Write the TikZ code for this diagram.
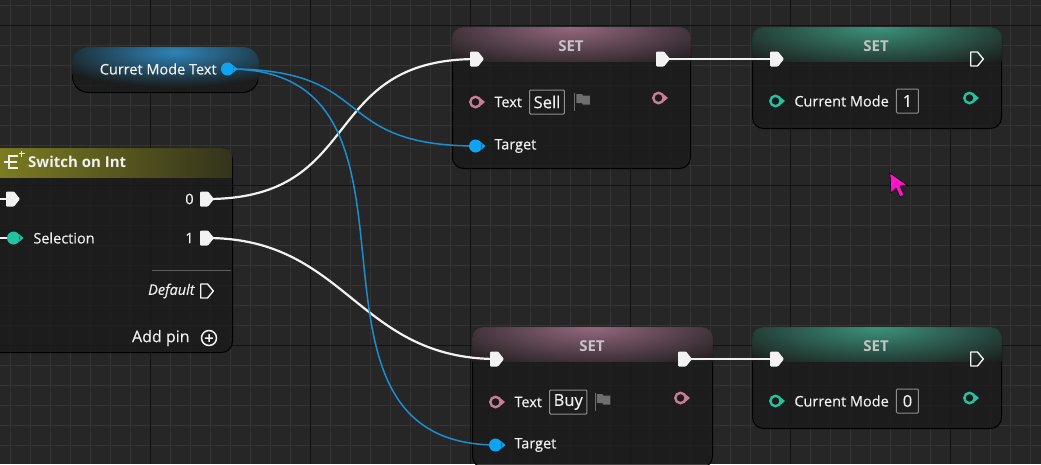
\documentclass[tikz,border=0pt]{standalone}
\usepackage{fontspec}
\setmainfont{Open Sans}
\newfontfamily\uefont{Open Sans}[FakeBold=0.35]
\usetikzlibrary{positioning}

\definecolor{canvas}{HTML}{262626}
\definecolor{gridfine}{HTML}{343434}
\definecolor{gridmajor}{HTML}{121212}
\definecolor{nodebg}{HTML}{1A1B1A}
\definecolor{execwhite}{HTML}{F2F2F2}
\definecolor{objblue}{HTML}{0FA3F2}
\definecolor{wireblue}{HTML}{1C8ED0}
\definecolor{textpink}{HTML}{C97D98}
\definecolor{intgreen}{HTML}{22C4A0}
\definecolor{labelgrey}{HTML}{F0F0F0}
\definecolor{titlegrey}{HTML}{C4C4C4}
\definecolor{boxgrey}{HTML}{8E8E8E}
\definecolor{flaggrey}{HTML}{6E6E6E}
\definecolor{pinkhdr}{HTML}{A2708A}
\definecolor{greenhdr}{HTML}{40A084}
\definecolor{olivehdr}{HTML}{8A8A22}
\definecolor{getblue}{HTML}{2F8AC0}
\definecolor{cursorpink}{HTML}{FF14C8}

\pgfdeclarelayer{grid}
\pgfdeclarelayer{bodies}
\pgfdeclarelayer{wires}
\pgfsetlayers{grid,bodies,wires,main}

\tikzset{
	body/.style={draw=black, line width=1pt, fill=nodebg, fill opacity=0.82, rounded corners=11pt, inner sep=0, anchor=north west},
	pin/.style={inner sep=0, minimum width=16pt, minimum height=16pt},
	execpin/.pic={\fill[execwhite, rounded corners=1pt] (-7,-7.5) -- (1,-7.5) -- (7,0) -- (1,7.5) -- (-7,7.5) -- cycle;},
	execopen/.pic={\draw[execwhite, line width=1.4pt, line join=round] (-6.3,-7) -- (0.5,-7) -- (6.3,0) -- (0.5,7) -- (-6.3,7) -- cycle;},
	dotpin/.pic={\fill[#1] (-1.5,0) circle (6.5pt) (4,-3.8) -- (8.5,0) -- (4,3.8) -- cycle;},
	ringpin/.pic={
		\fill[#1] (3.5,-3.8) -- (8,0) -- (3.5,3.8) -- cycle;
		\draw[#1, line width=2.4pt, fill=nodebg] (-1.5,0) circle (5.2pt);
	},
	addpin/.pic={\draw[execwhite, line width=1.5pt] (0,0) circle (7.5pt) (-3.8,0) -- (3.8,0) (0,-3.8) -- (0,3.8);},
	lbl/.style={text=labelgrey, font=\uefont\fontsize{14.5}{17}\selectfont, inner sep=0},
	settitle/.style={text=titlegrey, font=\bfseries\fontsize{15}{17}\selectfont, inner sep=0},
	valbox/.style={draw=boxgrey, line width=1pt, rounded corners=1pt, text=labelgrey, font=\uefont\fontsize{16.5}{18}\selectfont, inner xsep=4pt, inner ysep=0, minimum height=24pt},
	execwire/.style={execwhite, line width=2.2pt},
	objwire/.style={wireblue, line width=1.5pt},
	flag/.pic={
		\draw[flaggrey, line width=1.3pt] (0,-9) -- (0,9);
		\fill[flaggrey] (1.5,-8) -- (7,-8) -- (8,-6.5) -- (15,-6.5) -- (15,2.5) -- (8,2.5) -- (7,1) -- (1.5,1) -- cycle;
	},
	swicon/.pic={
		\draw[labelgrey, line width=1.7pt] (5,-6) -- (-4,-6) -- (-4,6) -- (5,6) (-9,0) -- (4,0);
		\draw[labelgrey, line width=1.1pt] (8.5,-11.5) -- (8.5,-5.5) (5.5,-8.5) -- (11.5,-8.5);
	}
}

\begin{document}
\begin{tikzpicture}[x=1pt, y=-1pt]
	\useasboundingbox (0,0) rectangle (1041,464);

	% canvas and grid
	\begin{pgfonlayer}{grid}
	\fill[canvas] (0,0) rectangle (1041,464);
	\foreach \gx in {10,30,...,1030} \draw[gridfine, line width=0.8pt] (\gx,0) -- (\gx,464);
	\foreach \gy in {5,25,...,465} \draw[gridfine, line width=0.8pt] (0,\gy) -- (1041,\gy);
	\foreach \gx in {150,310,...,950} \draw[gridmajor, line width=1pt] (\gx,0) -- (\gx,464);
	\foreach \gy in {25,185,345} \draw[gridmajor, line width=1pt] (0,\gy) -- (1041,\gy);
	\end{pgfonlayer}

	% node bodies
	\begin{pgfonlayer}{bodies}
	\node[body, rounded corners=16pt, minimum width=186pt, minimum height=45pt] (getter) at (72,47) {};
	\node[body, minimum width=244pt, minimum height=204pt] (switch) at (-12,148) {};
	\node[body, minimum width=238pt, minimum height=141pt] (sell) at (452,27) {};
	\node[body, minimum width=249pt, minimum height=101pt] (mode1) at (752,27) {};
	\node[body, minimum width=240pt, minimum height=140pt] (buy) at (472,327) {};
	\node[body, minimum width=249pt, minimum height=101pt] (mode0) at (752,327) {};

	\begin{scope}
		\clip[rounded corners=16pt] (getter.north west) rectangle (getter.south east);
		\shade[inner color=getblue, outer color=nodebg, opacity=0.95] (175,52) ellipse [x radius=130pt, y radius=36pt];
	\end{scope}
	\begin{scope}
		\clip[rounded corners=11pt] (switch.north west) rectangle (switch.south east);
		\shade[left color=olivehdr, right color=nodebg!75!olivehdr, opacity=0.9] (switch.north west) rectangle (232,177);
	\end{scope}
	\foreach \b/\hc in {sell/pinkhdr, buy/pinkhdr, mode1/greenhdr, mode0/greenhdr} {
		\begin{scope}
			\clip[rounded corners=11pt] (\b.north west) rectangle (\b.south east);
			\clip (\b.north west) rectangle ([yshift=-34pt]\b.north east);
			\shade[inner color=\hc, outer color=nodebg, opacity=0.9] (\b.north) ellipse [x radius=180pt, y radius=48pt];
		\end{scope}
	}
	\end{pgfonlayer}

	% getter
	\node[pin] (getpin) at (229,69) {};
	\node[lbl, left=4pt of getpin] (getlbl) {Curret Mode Text};

	% switch on int
	\pic at (13,162) {swicon};
	\node[lbl, font=\bfseries\fontsize{15}{17}\selectfont, anchor=west] (swtitle) at (28,162) {Switch on Int};
	\node[pin] (swin) at (13,199) {};
	\node[pin] (sw0) at (207,199) {};
	\node[pin] (swsel) at (15,238) {};
	\node[pin] (sw1) at (207,238) {};
	\node[pin] (swdef) at (207,291) {};
	\node[pin] (swadd) at (209,338) {};
	\node[lbl, left=5pt of sw0] (lbl0) {0};
	\node[lbl, left=5pt of sw1] (lbl1) {1};
	\node[lbl, right=10pt of swsel] (lblsel) {Selection};
	\node[lbl, font=\uefont\itshape\fontsize{14.5}{17}\selectfont, left=4pt of swdef] (lbldef) {Default};
	\node[lbl, font=\uefont\fontsize{16}{18}\selectfont, left=11pt of swadd] (lbladd) {Add pin};
	\draw[gridfine!80!white, line width=1pt] (152,270) -- (231,270);
	\coordinate (offin) at (-5,199);
	\coordinate (offsel) at (-5,238);

	% set text: sell
	\node[settitle] (selltitle) at (571,46) {SET};
	\node[pin] (sellin) at (477,59) {};
	\node[pin] (sellout) at (663,59) {};
	\node[pin] (selltext) at (477,102) {};
	\node[lbl, right=9pt of selltext] (selltextlbl) {Text};
	\node[valbox, right=7pt of selltextlbl] (sellval) {Sell};
	\pic at ([xshift=10pt]sellval.east) {flag};
	\node[pin] (sellret) at (660,98) {};
	\node[pin] (selltgt) at (477,146) {};
	\node[lbl, right=9pt of selltgt] (selltgtlbl) {Target};

	% set mode 1
	\node[settitle] (mode1title) at (876,46) {SET};
	\node[pin] (mode1in) at (777,59) {};
	\node[pin] (mode1out) at (977,59) {};
	\node[pin] (mode1val) at (777,101) {};
	\node[lbl, right=9pt of mode1val] (mode1lbl) {Current Mode};
	\node[valbox, minimum width=22pt, right=7pt of mode1lbl] (mode1box) {1};
	\node[pin] (mode1ret) at (971,98) {};

	% set text: buy
	\node[settitle] (buytitle) at (592,346) {SET};
	\node[pin] (buyin) at (497,359) {};
	\node[pin] (buyout) at (685,359) {};
	\node[pin] (buytext) at (497,402) {};
	\node[lbl, right=9pt of buytext] (buytextlbl) {Text};
	\node[valbox, right=7pt of buytextlbl] (buyval) {Buy};
	\pic at ([xshift=8pt]buyval.east) {flag};
	\node[pin] (buyret) at (682,398) {};
	\node[pin] (buytgt) at (497,445) {};
	\node[lbl, right=9pt of buytgt] (buytgtlbl) {Target};

	% set mode 0
	\node[settitle] (mode0title) at (876,346) {SET};
	\node[pin] (mode0in) at (777,359) {};
	\node[pin] (mode0out) at (977,359) {};
	\node[pin] (mode0val) at (777,401) {};
	\node[lbl, right=9pt of mode0val] (mode0lbl) {Current Mode};
	\node[valbox, minimum width=22pt, right=7pt of mode0lbl] (mode0box) {0};
	\node[pin] (mode0ret) at (971,398) {};

	% pin glyphs
	\foreach \p in {swin,sw0,sw1,sellin,sellout,mode1in,buyin,buyout,mode0in} \pic at (\p) {execpin};
	\foreach \p in {swdef,mode1out,mode0out} \pic at (\p) {execopen};
	\foreach \p in {getpin,selltgt,buytgt} \pic at (\p) {dotpin=objblue};
	\pic at (swsel) {dotpin=intgreen};
	\foreach \p in {selltext,sellret,buytext,buyret} \pic at (\p) {ringpin=textpink};
	\foreach \p in {mode1val,mode1ret,mode0val,mode0ret} \pic at (\p) {ringpin=intgreen};
	\pic at (swadd) {addpin};

	% wires
	\begin{pgfonlayer}{wires}
	\draw[execwire] (offin) -- (swin.center);
	\draw[labelgrey!70, line width=1.5pt] (offsel) -- (swsel.center);
	\draw[execwire] (sw0.center) .. controls +(160,0) and +(-160,0) .. (sellin.center);
	\draw[execwire] (sw1.center) .. controls +(140,0) and +(-140,0) .. (buyin.center);
	\draw[execwire] (sellout.center) -- (mode1in.center);
	\draw[execwire] (buyout.center) -- (mode0in.center);
	\draw[objwire] (getpin.center) .. controls +(150,0) and +(-150,0) .. (selltgt.center);
	\draw[objwire] (getpin.center) .. controls +(230,0) and +(-230,0) .. (buytgt.center);
	\end{pgfonlayer}

	% mouse pointer
	\filldraw[fill=cursorpink, draw=black, line width=0.6pt] (890,173) -- (891,193) -- (896,188) -- (900,197) -- (904,195) -- (900,186) -- (907,185) -- cycle;
\end{tikzpicture}
\end{document}
